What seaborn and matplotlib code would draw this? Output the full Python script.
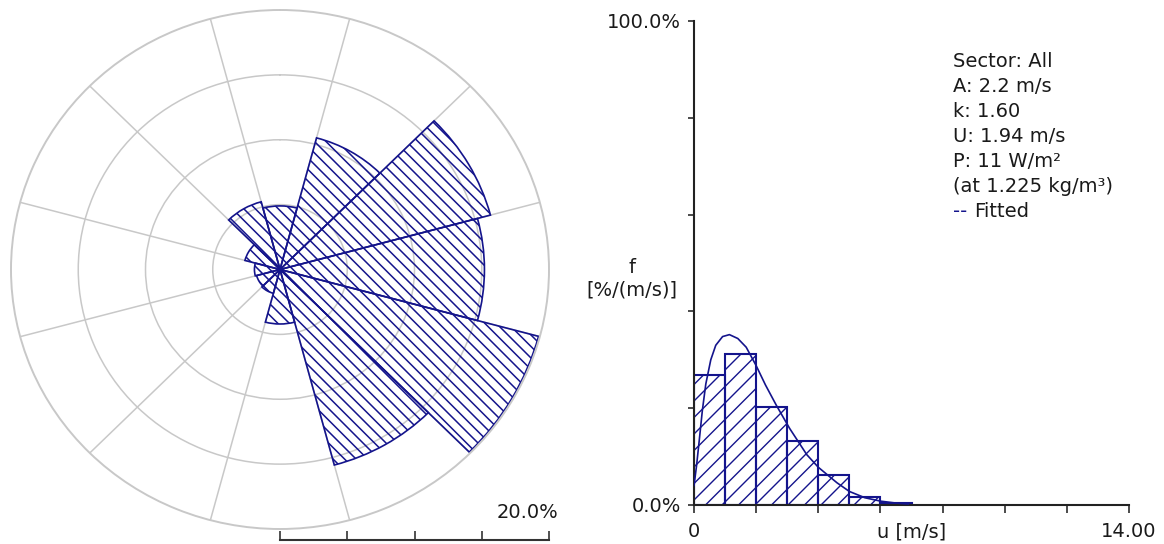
import numpy as np
import matplotlib
matplotlib.use("Agg")
import matplotlib.pyplot as plt
import seaborn as sns
from matplotlib.collections import LineCollection
from matplotlib.transforms import IdentityTransform
from matplotlib.path import Path

# Wind rose: frequency per 30 degree sector [%]
sector_dir = [0, 30, 60, 90, 120, 150, 180, 210, 240, 270, 300, 330]
sector_freq = [4.9, 10.5, 16.2, 15.2, 19.9, 15.6, 4.2, 1.9, 1.8, 1.9, 2.7, 5.4]

# Histogram of wind speed (1 m/s bins) [%/(m/s)]
bin_lo = [0, 1, 2, 3, 4, 5, 6]
bin_freq = [26.9, 31.3, 20.2, 13.3, 6.1, 1.6, 0.4]

# Fitted Weibull curve
fit_u = [0.0, 0.08, 0.16, 0.27, 0.38, 0.54, 0.70, 0.92, 1.14, 1.41, 1.68, 2.0,
         2.3, 2.65, 3.08, 3.63, 4.0, 4.6, 5.0, 5.5, 6.0, 6.5, 6.9]
fit_f = [4.0, 8.0, 12.8, 19.6, 25.0, 30.0, 33.0, 34.8, 35.2, 34.4, 32.6, 28.8,
         24.8, 20.6, 15.8, 10.4, 7.8, 4.6, 2.8, 1.5, 0.8, 0.4, 0.2]

info_lines = ["Sector: All", "A: 2.2 m/s", "k: 1.60", "U: 1.94 m/s",
              "P: 11 W/m²", "(at 1.225 kg/m³)"]
legend_label = "Fitted"

x_ticks = [0, 2, 4, 6, 8, 10, 12, 14]
y_ticks = [0, 20, 40, 60, 80, 100]

sns.set_style("ticks")
plt.rcParams["font.family"] = ["DejaVu Sans"]

navy = "#14148c"
text_col = "#1a1a1a"
grid_col = "#c8c8c8"
W, H = 1164, 544

fig = plt.figure(figsize=(W / 100, H / 100), dpi=100)


def px_box(x0, y0, x1, y1):
    return [x0 / W, 1 - y1 / H, (x1 - x0) / W, (y1 - y0) / H]


def add_hatch(ax, poly_disp, step, slope, lw):
    # diagonal lines in pixel space, clipped to the bar outline
    bb = ax.get_window_extent()
    span = bb.width + bb.height
    segs = []
    for c in np.arange(-span, span, step):
        x0, x1 = bb.x0 - 5, bb.x1 + 5
        segs.append([(x0, bb.y0 + c + slope * (x0 - bb.x0)),
                     (x1, bb.y0 + c + slope * (x1 - bb.x0))])
    lc = LineCollection(segs, colors=navy, linewidths=lw,
                        transform=IdentityTransform(), zorder=1.5)
    ax.add_collection(lc, autolim=False)
    lc.set_clip_path(Path(poly_disp, closed=False), IdentityTransform())


# ---- wind rose ----
axr = fig.add_axes(px_box(11, 10, 549, 529), projection="polar")
axr.set_aspect("auto")
axr.set_theta_zero_location("N")
axr.set_theta_direction(-1)
axr.set_ylim(0, 20)
axr.set_rgrids([5, 10, 15], labels=[])
axr.set_thetagrids(np.arange(15, 360, 30), labels=[])
axr.grid(True, color=grid_col, lw=1.1)
axr.spines["polar"].set_color(grid_col)
axr.spines["polar"].set_linewidth(1.4)
axr.set_axisbelow(True)

width = np.deg2rad(30)
theta = np.deg2rad(sector_dir)
axr.bar(theta, sector_freq, width=width, bottom=0, fill=False,
        edgecolor=navy, linewidth=1.2, zorder=2)

for th, r in zip(theta, sector_freq):
    arc = np.linspace(th - width / 2, th + width / 2, 60)
    pts = [(th - width / 2, 0)] + [(a, r) for a in arc] + [(th + width / 2, 0)]
    disp = axr.transData.transform(np.array(pts))
    add_hatch(axr, disp, 11.5, -1, 1.1)

# scale bar below the rose
axs = fig.add_axes(px_box(280, 530, 549, 540))
axs.set_xlim(0, 20)
axs.set_xticks([0, 5, 10, 15, 20], labels=[])
axs.set_yticks([])
for s in ["top", "left", "right"]:
    axs.spines[s].set_visible(False)
axs.spines["bottom"].set_color("#333333")
axs.spines["bottom"].set_linewidth(1.5)
axs.tick_params(axis="x", direction="in", length=6.5, width=1.2, color="#333333")
axs.patch.set_alpha(0)
fig.text(558 / W, 1 - 513 / H, "20.0%", ha="right", va="center",
         fontsize=14, color=text_col)

# ---- histogram ----
axh = fig.add_axes(px_box(694, 21, 1129, 505))
edges = bin_lo + [bin_lo[-1] + 1]
mids = [b + 0.5 for b in bin_lo]
sns.histplot(x=mids, weights=bin_freq, bins=edges, ax=axh, fill=False,
             color=navy, linewidth=1.5, element="bars", zorder=2)
sns.lineplot(x=fit_u, y=fit_f, ax=axh, color=navy, lw=1.2, sort=False,
             estimator=None, zorder=3)
axh.set_xlim(0, 14)
axh.set_ylim(0, 100)
axh.set_xticks(x_ticks, labels=["0"] + [""] * 6 + ["14.00"])
axh.set_xticks([7], labels=["u [m/s]"], minor=True)
axh.set_yticks(y_ticks, labels=["0.0%"] + [""] * 4 + ["100.0%"])
axh.tick_params(axis="x", which="major", direction="out", length=5.5,
                width=1.1, pad=7, labelsize=14, colors=text_col)
axh.tick_params(axis="x", which="minor", length=0, pad=12.5,
                labelsize=14, colors=text_col)
axh.tick_params(axis="y", direction="out", length=4.2, width=1.1, pad=5,
                labelsize=14, colors=text_col)
axh.set_xlabel("")
axh.set_ylabel("")
sns.despine(ax=axh)
for s in ["left", "bottom"]:
    axh.spines[s].set_color("#222222")
    axh.spines[s].set_linewidth(1.5)

for p in axh.patches:
    x0, y0 = p.get_x(), p.get_y()
    x1, y1 = x0 + p.get_width(), y0 + p.get_height()
    disp = axh.transData.transform([(x0, y0), (x0, y1), (x1, y1), (x1, y0), (x0, y0)])
    add_hatch(axh, disp, 16.5, 1, 1.0)

fig.text(632 / W, 1 - 279 / H, "f\n[%/(m/s)]", ha="center", va="center",
         fontsize=14, color=text_col, linespacing=1.25)

# info block
for i, line in enumerate(info_lines):
    fig.text(953 / W, 1 - (66.7 + 25 * i) / H, line, ha="left",
             va="baseline", fontsize=14, color=text_col)
yl = 66.7 + 25 * len(info_lines)
fig.text(953 / W, 1 - yl / H, "--", ha="left", va="baseline",
         fontsize=14, color=navy)
fig.text(974 / W, 1 - yl / H, legend_label, ha="left", va="baseline",
         fontsize=14, color=text_col)

fig.savefig("out.png", dpi=100)
